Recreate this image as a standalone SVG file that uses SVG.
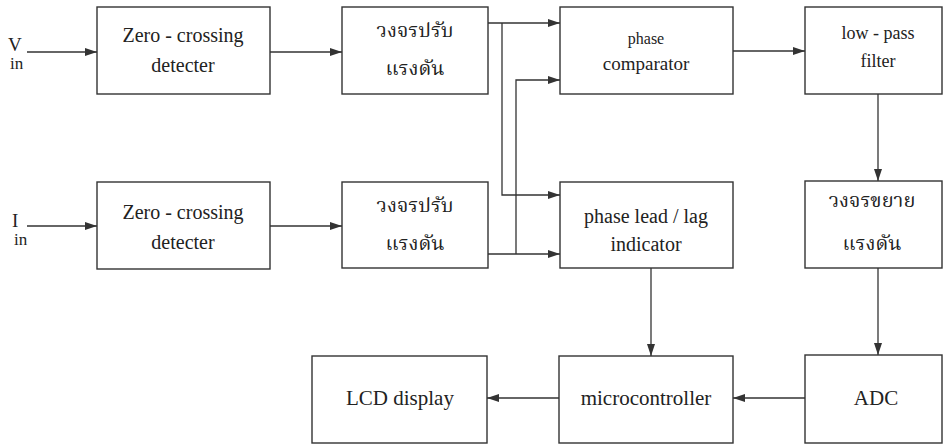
<svg xmlns="http://www.w3.org/2000/svg" width="944" height="445" viewBox="0 0 944 445">
<style>
.box{fill:#fff;stroke:#333;stroke-width:1.4}
.ln{fill:none;stroke:#333;stroke-width:1.3}
.t{fill:#222;text-anchor:middle}
.th{fill:#222;text-anchor:middle;font-size:20px}
</style>
<defs>
<marker id="ah" viewBox="0 0 12 8" refX="12" refY="4" markerWidth="12" markerHeight="8" markerUnits="userSpaceOnUse" orient="auto">
<path d="M0,0 L12,4 L0,8 Z" fill="#333"/>
</marker>
</defs>
<rect width="944" height="445" fill="#fff"/>
<g font-family="'Liberation Serif','Times New Roman','DejaVu Serif',serif">
<g id="vin-label"><text class="t" x="8" y="51" font-size="19" style="text-anchor:start">V</text><text class="t" x="10" y="69" font-size="17" style="text-anchor:start">in</text></g>
<g id="iin-label"><text class="t" x="12" y="227" font-size="19" style="text-anchor:start">I</text><text class="t" x="14" y="245" font-size="17" style="text-anchor:start">in</text></g>
<g id="zcd1"><rect class="box" x="97" y="7" width="173" height="87"/><text class="t" x="183" y="42" font-size="20">Zero - crossing</text><text class="t" x="183" y="72" font-size="20">detecter</text></g>
<g id="comparator"><rect class="box" x="560" y="7" width="173" height="87"/><text class="t" x="646" y="44" font-size="16">phase</text><text class="t" x="646" y="70" font-size="19">comparator</text></g>
<g id="lpf"><rect class="box" x="805" y="7" width="137" height="87"/><text class="t" x="878" y="39" font-size="18">low - pass</text><text class="t" x="878" y="67" font-size="18">filter</text></g>
<g id="zcd2"><rect class="box" x="97" y="182" width="173" height="87"/><text class="t" x="183" y="219" font-size="20">Zero - crossing</text><text class="t" x="183" y="249" font-size="20">detecter</text></g>
<g id="leadlag"><rect class="box" x="560" y="182" width="173" height="86"/><text class="t" x="646" y="223" font-size="20">phase lead / lag</text><text class="t" x="646" y="251" font-size="20">indicator</text></g>
<g id="lcd"><rect class="box" x="312" y="356" width="175" height="87"/><text class="t" x="400" y="405" font-size="21">LCD display</text></g>
<g id="micro"><rect class="box" x="559" y="356" width="174" height="87"/><text class="t" x="646" y="405" font-size="21">microcontroller</text></g>
<g id="adc"><rect class="box" x="805" y="355" width="137" height="88"/><text class="t" x="876" y="405" font-size="21">ADC</text></g>
</g>
<g font-family="'Liberation Serif','Noto Serif Thai','Noto Sans Thai',serif">
<g id="reg1"><rect class="box" x="342" y="7" width="146" height="87"/><text class="th" x="415" y="37">วงจรปรับ</text><text class="th" x="415" y="75">แรงดัน</text></g>
<g id="reg2"><rect class="box" x="342" y="182" width="146" height="86"/><text class="th" x="415" y="212">วงจรปรับ</text><text class="th" x="415" y="250">แรงดัน</text></g>
<g id="amp"><rect class="box" x="805" y="181" width="137" height="87"/><text class="th" x="872" y="207">วงจรขยาย</text><text class="th" x="872" y="250">แรงดัน</text></g>
</g>
<g id="connectors">
<line class="ln" x1="27" y1="52" x2="97" y2="52" marker-end="url(#ah)"/>
<line class="ln" x1="270" y1="52" x2="342" y2="52" marker-end="url(#ah)"/>
<line class="ln" x1="27" y1="226" x2="97" y2="226" marker-end="url(#ah)"/>
<line class="ln" x1="270" y1="226" x2="342" y2="226" marker-end="url(#ah)"/>
<line class="ln" x1="488" y1="23" x2="560" y2="23" marker-end="url(#ah)"/>
<polyline class="ln" points="502,23 502,195 560,195" marker-end="url(#ah)"/>
<line class="ln" x1="488" y1="254" x2="560" y2="254" marker-end="url(#ah)"/>
<polyline class="ln" points="516,254 516,80 560,80" marker-end="url(#ah)"/>
<line class="ln" x1="733" y1="51" x2="805" y2="51" marker-end="url(#ah)"/>
<line class="ln" x1="878" y1="94" x2="878" y2="181" marker-end="url(#ah)"/>
<line class="ln" x1="878" y1="268" x2="878" y2="355" marker-end="url(#ah)"/>
<line class="ln" x1="651" y1="268" x2="651" y2="356" marker-end="url(#ah)"/>
<line class="ln" x1="805" y1="398" x2="733" y2="398" marker-end="url(#ah)"/>
<line class="ln" x1="559" y1="398" x2="487" y2="398" marker-end="url(#ah)"/>
</g>
</svg>
